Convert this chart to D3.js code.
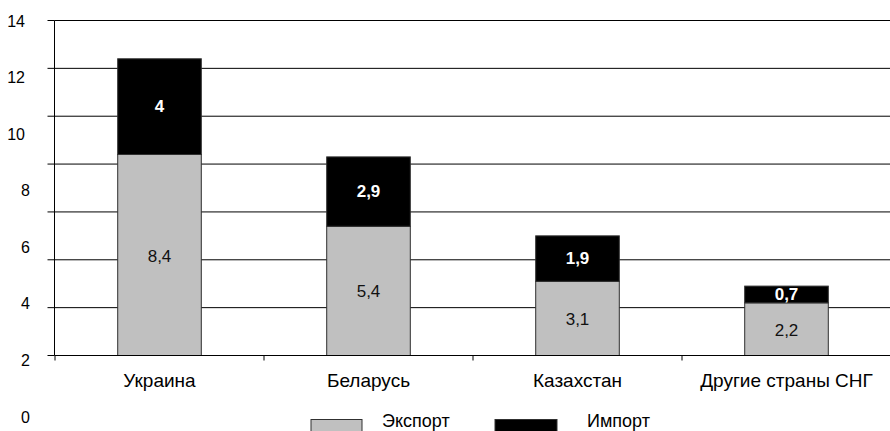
<!DOCTYPE html>
<html>
<head>
<meta charset="utf-8">
<script src="https://cdn.jsdelivr.net/npm/d3@7"></script>
<style>
  html, body { margin: 0; padding: 0; background: #fff; }
  svg { display: block; font-family: "Liberation Sans", Arial, sans-serif; }
</style>
</head>
<body>
<svg id="chart" width="890" height="431"></svg>
<script>
// ---- data ----
const categories = ["Украина", "Беларусь", "Казахстан", "Другие страны СНГ"];
const exportValues = [8.4, 5.4, 3.1, 2.2];
const importValues = [4, 2.9, 1.9, 0.7];
const exportLabels = ["8,4", "5,4", "3,1", "2,2"];
const importLabels = ["4", "2,9", "1,9", "0,7"];
const tickValues = [0, 2, 4, 6, 8, 10, 12, 14];
const tickLabels = ["0", "2", "4", "6", "8", "10", "12", "14"];
const seriesNames = ["Экспорт", "Импорт"];

// ---- layout ----
const svg = d3.select("#chart");
const left = 54.5, right = 891;
const y = d3.scaleLinear().domain([0, 14]).range([355.5, 20.5]);
// axis labels in the original are drawn on a stretched scale
const yl = d3.scaleLinear().domain([0, 14]).range([417, 21]);
const x = d3.scaleBand().domain(categories).range([55, right])
  .paddingInner(0.6).paddingOuter(0.3);
const step = x.step();

// gridlines
svg.append("g").selectAll("line").data(tickValues.filter(v => v > 0)).join("line")
  .attr("x1", left).attr("x2", right)
  .attr("y1", d => y(d)).attr("y2", d => y(d))
  .attr("stroke", "#000").attr("stroke-width", 1);

// y axis line + ticks
svg.append("line").attr("x1", left).attr("x2", left)
  .attr("y1", y(14)).attr("y2", y(0)).attr("stroke", "#000");
svg.append("g").selectAll("line").data(tickValues).join("line")
  .attr("x1", left - 7).attr("x2", left)
  .attr("y1", d => y(d)).attr("y2", d => y(d))
  .attr("stroke", "#000");

// y tick labels
svg.append("g").selectAll("text").data(tickValues).join("text")
  .attr("x", (d, i) => tickLabels[i].length > 1 ? 25 : 30)
  .attr("y", d => yl(d))
  .attr("text-anchor", "end")
  .attr("dominant-baseline", "central")
  .attr("font-size", 16)
  .attr("fill", "#000")
  .text((d, i) => tickLabels[i]);

// stacked bars
const gb = svg.append("g");
gb.selectAll("rect.exp").data(categories).join("rect")
  .attr("class", "exp")
  .attr("x", d => x(d)).attr("width", x.bandwidth())
  .attr("y", (d, i) => y(exportValues[i]))
  .attr("height", (d, i) => y(0) - y(exportValues[i]))
  .attr("fill", "#c0c0c0").attr("stroke", "#303030").attr("stroke-width", 1);
gb.selectAll("rect.imp").data(categories).join("rect")
  .attr("class", "imp")
  .attr("x", d => x(d)).attr("width", x.bandwidth())
  .attr("y", (d, i) => y(exportValues[i] + importValues[i]))
  .attr("height", (d, i) => y(exportValues[i]) - y(exportValues[i] + importValues[i]))
  .attr("fill", "#000").attr("stroke", "#303030").attr("stroke-width", 1);

// baseline + category ticks
svg.append("line").attr("x1", left).attr("x2", right)
  .attr("y1", y(0)).attr("y2", y(0)).attr("stroke", "#000");
svg.append("g").selectAll("line").data(d3.range(categories.length + 1)).join("line")
  .attr("x1", i => 55 + i * step).attr("x2", i => 55 + i * step)
  .attr("y1", y(0)).attr("y2", y(0) + 5)
  .attr("stroke", "#000");

// value labels
gb.selectAll("text.exp").data(categories).join("text")
  .attr("class", "exp")
  .attr("x", d => x(d) + x.bandwidth() / 2)
  .attr("y", (d, i) => (y(0) + y(exportValues[i])) / 2 + 1)
  .attr("text-anchor", "middle").attr("dominant-baseline", "central")
  .attr("font-size", 17).attr("fill", "#111")
  .text((d, i) => exportLabels[i]);
gb.selectAll("text.imp").data(categories).join("text")
  .attr("class", "imp")
  .attr("x", d => x(d) + x.bandwidth() / 2)
  .attr("y", (d, i) => (y(exportValues[i]) + y(exportValues[i] + importValues[i])) / 2)
  .attr("text-anchor", "middle").attr("dominant-baseline", "central")
  .attr("font-size", 17).attr("font-weight", "bold").attr("fill", "#fff")
  .text((d, i) => importLabels[i]);

// category labels
svg.append("g").selectAll("text").data(categories).join("text")
  .attr("x", d => x(d) + x.bandwidth() / 2)
  .attr("y", 387)
  .attr("text-anchor", "middle")
  .attr("font-size", 19).attr("fill", "#000")
  .text(d => d);

// legend
const legend = svg.append("g");
const legendItems = [
  { name: seriesNames[0], fill: "#c0c0c0", bx: 311, bw: 51, tx: 382 },
  { name: seriesNames[1], fill: "#000", bx: 495, bw: 62, tx: 587 }
];
legendItems.forEach(it => {
  legend.append("rect").attr("x", it.bx).attr("y", 419.5)
    .attr("width", it.bw).attr("height", 20)
    .attr("fill", it.fill).attr("stroke", "#303030");
  legend.append("text").attr("x", it.tx).attr("y", 427)
    .attr("font-size", 18).attr("fill", "#000").text(it.name);
});
</script>
</body>
</html>
